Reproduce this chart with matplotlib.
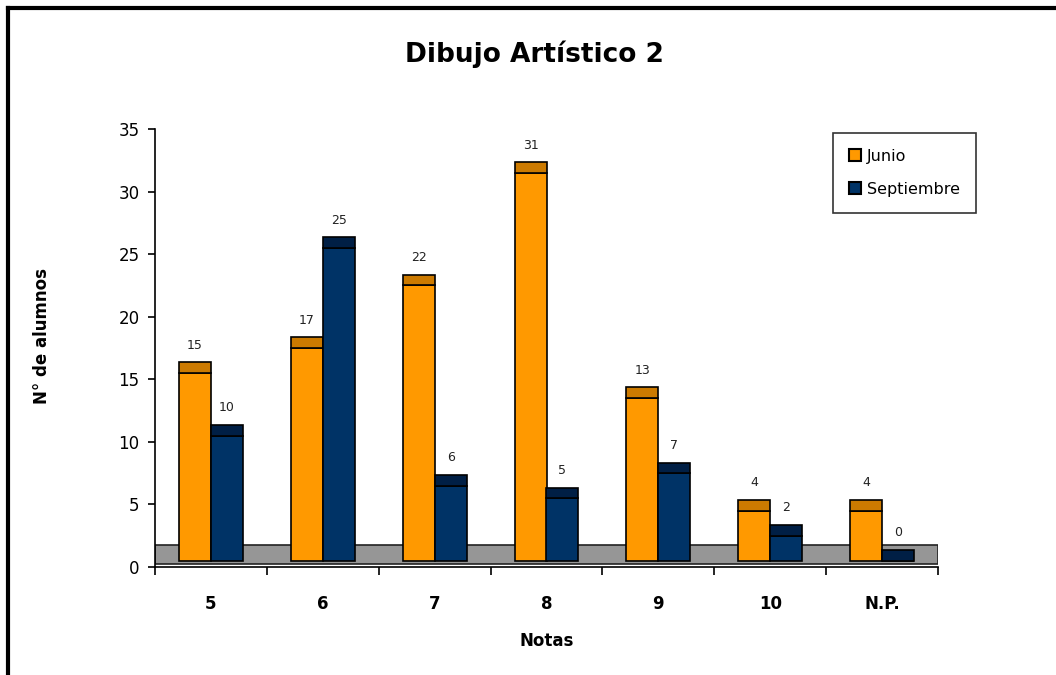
import matplotlib
matplotlib.use("Agg")
import matplotlib.pyplot as plt
from matplotlib.patches import Rectangle
from matplotlib.lines import Line2D
import numpy as np

categories = ["5", "6", "7", "8", "9", "10", "N.P."]
junio = [15, 17, 22, 31, 13, 4, 4]
septiembre = [10, 25, 6, 5, 7, 2, 0]
yticks = [0, 5, 10, 15, 20, 25, 30, 35]

ORANGE = "#FF9900"
ORANGE_TOP = "#CC7A00"
NAVY = "#003366"
NAVY_TOP = "#001F45"

# pseudo 3D look (like the Excel chart)
BASE = 0.5
TOP_H = 0.85
W = 0.286

fig = plt.figure(figsize=(10.56, 6.75), dpi=100)
ax = fig.add_axes([155 / 1056, (675 - 567) / 675, (938 - 155) / 1056, (567 - 129) / 675])

x = np.arange(len(categories))

# floor
ax.add_patch(Rectangle((-0.5, 0.2), 7.0, 1.55, facecolor="#969696",
                       edgecolor="#222222", lw=1.2, zorder=1))

for xs, vals, c, ctop in [(x - W / 2, junio, ORANGE, ORANGE_TOP),
                          (x + W / 2, septiembre, NAVY, NAVY_TOP)]:
    vals = np.array(vals)
    ax.bar(xs, vals, W, bottom=BASE, color=c, edgecolor="black", lw=1.2, zorder=3)
    ax.bar(xs, TOP_H, W, bottom=vals + BASE, color=ctop, edgecolor="black", lw=1.2, zorder=3)
    for xi, v in zip(xs, vals):
        ax.text(xi, v + 2.2, str(v), ha="center", va="bottom", fontsize=9, color="#222222")

ax.set_xlim(-0.5, len(categories) - 0.5)
ax.set_ylim(0, 35)
ax.set_yticks(yticks)
ax.tick_params(axis="y", labelsize=12, length=5, width=1.2, pad=6)
ax.set_xticks(x)
ax.set_xticklabels(categories, fontsize=12, fontweight="bold")
ax.tick_params(axis="x", length=0, pad=20)
ax.set_xticks(np.arange(-0.5, len(categories)), minor=True)
ax.tick_params(axis="x", which="minor", length=6, width=1.2)

for s in ["top", "right"]:
    ax.spines[s].set_visible(False)
for s in ["left", "bottom"]:
    ax.spines[s].set_linewidth(1.2)

ax.set_xlabel("Notas", fontsize=12, fontweight="bold")
ax.xaxis.set_label_coords(0.5, -(632 - 567) / 438)
ax.set_ylabel("N° de alumnos", fontsize=12, fontweight="bold")
ax.yaxis.set_label_coords(-(155 - 51) / 783, (567 - 336) / 438)

fig.text(534 / 1056, 1 - 54 / 675, "Dibujo Artístico 2", ha="center", va="center",
         fontsize=19, fontweight="bold")

handles = [Line2D([], [], marker="s", ls="none", markersize=8, markerfacecolor=ORANGE,
                  markeredgecolor="black", markeredgewidth=1.5),
           Line2D([], [], marker="s", ls="none", markersize=8, markerfacecolor=NAVY,
                  markeredgecolor="black", markeredgewidth=1.5)]
leg = ax.legend(handles, ["Junio", "Septiembre"], loc="upper left",
                bbox_to_anchor=((833 - 155) / 783, 1 - (133 - 129) / 438),
                borderaxespad=0, fontsize=11.5, frameon=True, fancybox=False,
                handlelength=0.8, handletextpad=0.3, labelspacing=1.1, borderpad=1.0)
leg.get_frame().set_edgecolor("black")
leg.get_frame().set_linewidth(1.2)

# outer frame (top and left edges visible)
fig.add_artist(Line2D([8 / 1056, 1], [1 - 8 / 675, 1 - 8 / 675], color="black", lw=3,
                      transform=fig.transFigure))
fig.add_artist(Line2D([8 / 1056, 8 / 1056], [0, 1 - 8 / 675], color="black", lw=3,
                      transform=fig.transFigure))

fig.savefig("out.png", dpi=100)
